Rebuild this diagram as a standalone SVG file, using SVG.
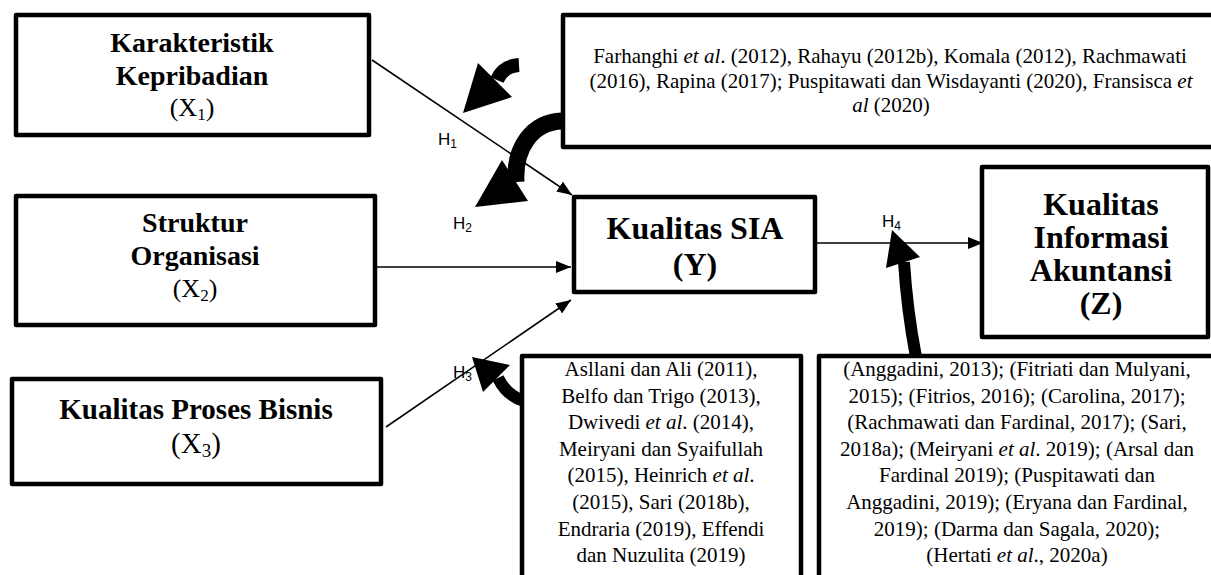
<svg xmlns="http://www.w3.org/2000/svg" width="1211" height="575" viewBox="0 0 1211 575">
<defs>
<style>
.box{fill:#fff;stroke:#000;stroke-width:4.5;stroke-linejoin:round}
.t{font-family:"Liberation Serif","Times New Roman",serif;fill:#000;text-anchor:middle}
.b{font-weight:bold}
.cit{font-size:21px}
.h{font-family:"Liberation Sans",Arial,sans-serif;font-size:17px;fill:#000}
.ln{stroke:#000;stroke-width:1.6;fill:none;marker-end:url(#ah)}
.band{stroke:#000;fill:none;stroke-linecap:butt}
</style>
<marker id="ah" markerUnits="userSpaceOnUse" markerWidth="15" markerHeight="12" refX="15" refY="6" orient="auto">
<path d="M0,0 L15,6 L0,12 z" fill="#000"/>
</marker>
</defs>
<rect width="1211" height="575" fill="#fff"/>

<g id="connectors">
<line class="ln" x1="372" y1="60" x2="572" y2="195"/>
<line class="ln" x1="377" y1="267" x2="571" y2="267"/>
<line class="ln" x1="386" y1="427" x2="571" y2="300"/>
<line class="ln" x1="817" y1="243" x2="983" y2="243"/>
<path class="band" stroke-width="14" d="M519,65 Q503,66 497,80"/>
<polygon points="463,113 478,63 512,97" fill="#000"/>
<path class="band" stroke-width="17" d="M562,121 C532,122 514,148 516,182"/>
<polygon points="475,207 502,160 528,201" fill="#000"/>
<path class="band" stroke-width="12" d="M524,401 Q507,396 498,378"/>
<polygon points="472,357 483,392 510,365" fill="#000"/>
<path class="band" stroke-width="12" d="M916,357 Q907,310 904,262"/>
<polygon points="892,230 886,268 920,257" fill="#000"/>
<text class="h" x="438" y="145">H<tspan font-size="12" dy="3">1</tspan></text>
<text class="h" x="453" y="229">H<tspan font-size="12" dy="3">2</tspan></text>
<text class="h" x="453" y="378">H<tspan font-size="12" dy="3">3</tspan></text>
<text class="h" x="882" y="227">H<tspan font-size="12" dy="3">4</tspan></text>
</g>

<g id="x1">
<rect class="box" x="16" y="15" width="353" height="120"/>
<text class="t b" x="192" y="52" font-size="28">Karakteristik</text>
<text class="t b" x="192" y="85" font-size="28">Kepribadian</text>
<text class="t" x="192" y="116" font-size="26">(X<tspan font-size="17" dy="4">1</tspan><tspan dy="-4">)</tspan></text>
</g>

<g id="x2">
<rect class="box" x="16" y="196" width="359" height="129"/>
<text class="t b" x="195" y="232" font-size="28">Struktur</text>
<text class="t b" x="195" y="265" font-size="28">Organisasi</text>
<text class="t" x="195" y="297" font-size="26">(X<tspan font-size="17" dy="4">2</tspan><tspan dy="-4">)</tspan></text>
</g>

<g id="x3">
<rect class="box" x="12" y="379" width="369" height="105"/>
<text class="t b" x="196" y="419" font-size="29">Kualitas Proses Bisnis</text>
<text class="t" x="196" y="453" font-size="29">(X<tspan font-size="19" dy="4">3</tspan><tspan dy="-4">)</tspan></text>
</g>

<g id="y">
<rect class="box" x="574" y="197" width="241" height="95"/>
<text class="t b" x="695" y="239" font-size="32">Kualitas SIA</text>
<text class="t b" x="695" y="275" font-size="32">(Y)</text>
</g>

<g id="z">
<rect class="box" x="982" y="167" width="226" height="170"/>
<text class="t b" x="1101" y="215" font-size="32">Kualitas</text>
<text class="t b" x="1101" y="248" font-size="32">Informasi</text>
<text class="t b" x="1101" y="281" font-size="32">Akuntansi</text>
<text class="t b" x="1101" y="314" font-size="32">(Z)</text>
</g>

<g id="ref-h1h2">
<rect class="box" x="563" y="15" width="660" height="132"/>
<text class="t cit" x="890" y="63">Farhanghi <tspan font-style="italic">et al</tspan>. (2012), Rahayu (2012b), Komala (2012), Rachmawati</text>
<text class="t cit" x="891" y="88">(2016), Rapina (2017); Puspitawati dan Wisdayanti (2020), Fransisca <tspan font-style="italic">et</tspan></text>
<text class="t cit" x="891" y="112"><tspan font-style="italic">al</tspan> (2020)</text>
</g>

<g id="ref-h3">
<rect class="box" x="522" y="356" width="279" height="240"/>
<text class="t cit" x="661" y="376">Asllani dan Ali (2011),</text>
<text class="t cit" x="661" y="403">Belfo dan Trigo (2013),</text>
<text class="t cit" x="661" y="429">Dwivedi <tspan font-style="italic">et al</tspan>. (2014),</text>
<text class="t cit" x="661" y="456">Meiryani dan Syaifullah</text>
<text class="t cit" x="661" y="482">(2015), Heinrich <tspan font-style="italic">et al</tspan>.</text>
<text class="t cit" x="661" y="509">(2015), Sari (2018b),</text>
<text class="t cit" x="661" y="536">Endraria (2019), Effendi</text>
<text class="t cit" x="661" y="562">dan Nuzulita (2019)</text>
</g>

<g id="ref-h4">
<rect class="box" x="819" y="356" width="400" height="240"/>
<text class="t cit" x="1017" y="376">(Anggadini, 2013); (Fitriati dan Mulyani,</text>
<text class="t cit" x="1017" y="403">2015); (Fitrios, 2016); (Carolina, 2017);</text>
<text class="t cit" x="1017" y="429">(Rachmawati dan Fardinal, 2017); (Sari,</text>
<text class="t cit" x="1017" y="456">2018a); (Meiryani <tspan font-style="italic">et al</tspan>. 2019); (Arsal dan</text>
<text class="t cit" x="1017" y="482">Fardinal 2019); (Puspitawati dan</text>
<text class="t cit" x="1017" y="509">Anggadini, 2019); (Eryana dan Fardinal,</text>
<text class="t cit" x="1017" y="536">2019); (Darma dan Sagala, 2020);</text>
<text class="t cit" x="1017" y="562">(Hertati <tspan font-style="italic">et al</tspan>., 2020a)</text>
</g>
</svg>
